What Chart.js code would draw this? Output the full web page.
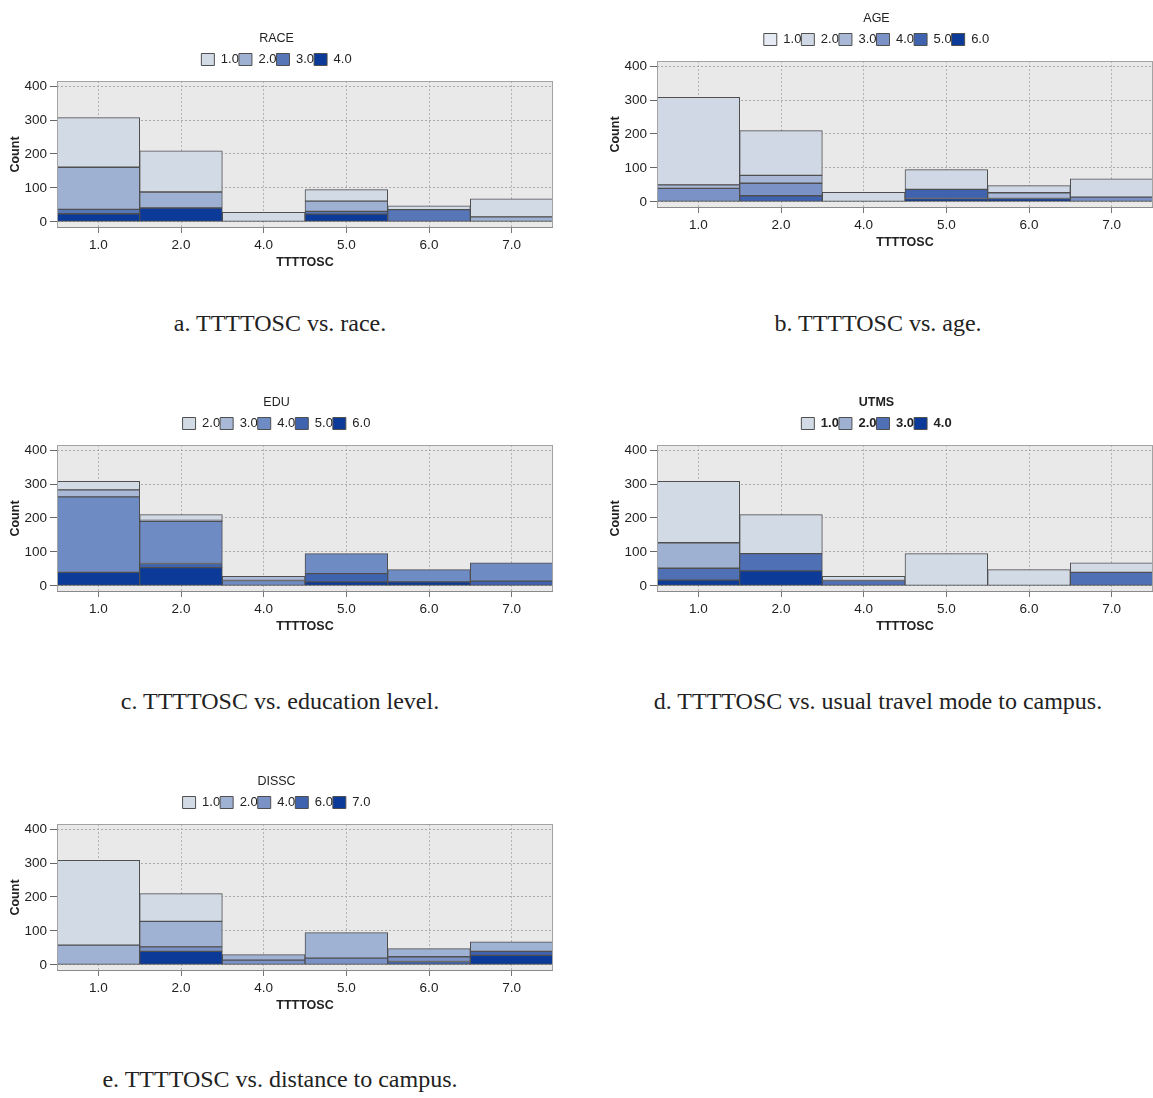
<!DOCTYPE html>
<html>
<head>
<meta charset="utf-8">
<script src="https://cdn.jsdelivr.net/npm/chart.js@4.4.0/dist/chart.umd.min.js"></script>
<style>
  html, body { margin: 0; padding: 0; background: #fff; overflow: hidden; }
  body { width: 1153px; height: 1098px; position: relative; }
  .box { position: absolute; width: 562px; height: 255px; }
  .cap { position: absolute; width: 560px; text-align: center; font-family: 'Liberation Serif', serif; font-size: 24px; color: #222; }
</style>
</head>
<body>
<div class="box" style="left:0;top:23px"><canvas id="raceChart"></canvas></div>
<div class="box" style="left:600px;top:3px"><canvas id="ageChart"></canvas></div>
<div class="box" style="left:0;top:387px"><canvas id="eduChart"></canvas></div>
<div class="box" style="left:600px;top:387px"><canvas id="utmsChart"></canvas></div>
<div class="box" style="left:0;top:766px"><canvas id="disscChart"></canvas></div>

<div class="cap" style="left:0;top:310px">a. TTTTOSC vs. race.</div>
<div class="cap" style="left:598px;top:310px">b. TTTTOSC vs. age.</div>
<div class="cap" style="left:0;top:688px">c. TTTTOSC vs. education level.</div>
<div class="cap" style="left:598px;top:688px">d. TTTTOSC vs. usual travel mode to campus.</div>
<div class="cap" style="left:0;top:1066px">e. TTTTOSC vs. distance to campus.</div>

<script>
// TTTTOSC bins (x axis) and count ticks
const bins = ['1.0', '2.0', '4.0', '5.0', '6.0', '7.0'];
const countTicks = [0, 100, 200, 300, 400];

// a. RACE
const raceGroups = ['1.0', '2.0', '3.0', '4.0'];
const race1 = [146, 121, 28, 34, 11, 53];
const race2 = [124, 47, 0, 30, 0, 15];
const race3 = [13, 0, 0, 8, 36, 0];
const race4 = [24, 41, 0, 23, 0, 0];

// b. AGE
const ageGroups = ['1.0', '2.0', '3.0', '4.0', '5.0', '6.0'];
const age1 = [0, 0, 0, 0, 0, 0];
const age2 = [258, 132, 28, 58, 21, 54];
const age3 = [10, 23, 0, 0, 17, 0];
const age4 = [40, 37, 0, 0, 0, 14];
const age5 = [0, 18, 0, 27, 0, 0];
const age6 = [0, 0, 0, 10, 10, 0];

// c. EDU
const eduGroups = ['2.0', '3.0', '4.0', '5.0', '6.0'];
const edu2 = [25, 17, 0, 0, 0, 0];
const edu3 = [21, 3, 12, 0, 0, 0];
const edu4 = [222, 124, 16, 59, 36, 54];
const edu5 = [0, 12, 0, 24, 0, 14];
const edu6 = [40, 54, 0, 12, 12, 0];

// d. UTMS
const utmsGroups = ['1.0', '2.0', '3.0', '4.0'];
const utms1 = [181, 115, 12, 95, 48, 28];
const utms2 = [75, 0, 0, 0, 0, 0];
const utms3 = [35, 51, 16, 0, 0, 40];
const utms4 = [17, 44, 0, 0, 0, 0];

// e. DISSC
const disscGroups = ['1.0', '2.0', '4.0', '6.0', '7.0'];
const dissc1 = [250, 82, 0, 0, 0, 0];
const dissc2 = [58, 75, 16, 75, 24, 28];
const dissc4 = [0, 13, 14, 20, 14, 0];
const dissc6 = [0, 0, 0, 0, 10, 12];
const dissc7 = [0, 40, 0, 0, 0, 28];

const FONT = "'Liberation Sans', Arial, sans-serif";

// grey plot panel with a frame
const panel = {
    id: 'panel',
    beforeDraw(chart) {
        const a = chart.chartArea;
        const ctx = chart.ctx;
        ctx.save();
        ctx.fillStyle = '#e9e9e9';
        ctx.fillRect(a.left, a.top, a.right - a.left, a.bottom - a.top);
        ctx.restore();
    },
    afterDraw(chart) {
        const a = chart.chartArea;
        const ctx = chart.ctx;
        ctx.save();
        ctx.strokeStyle = '#a3a3a3';
        ctx.lineWidth = 1;
        ctx.strokeRect(a.left + 0.5, a.top + 0.5, a.right - a.left - 1, a.bottom - a.top - 1);
        ctx.strokeStyle = '#8a8a8a';
        ctx.beginPath();
        ctx.moveTo(a.left, a.bottom - 0.5);
        ctx.lineTo(a.right, a.bottom - 0.5);
        ctx.stroke();
        ctx.restore();
    }
};

// leave room between the legend row and the plot
const legendGap = {
    id: 'legendGap',
    beforeLayout(chart) {
        const lg = chart.legend;
        if (lg && !lg._gapDone) {
            const fit = lg.fit;
            lg.fit = function () { fit.call(this); this.height += 5; };
            lg._gapDone = true;
        }
    }
};

function makeChart(id, title, groups, series, colors, bold) {
    const weight = bold ? 'bold' : 'normal';
    const datasets = groups.map((g, i) => ({
        label: g,
        data: series[i].map(v => (v === 0 ? null : v)),
        backgroundColor: colors[i],
        borderColor: '#4f4f4f',
        borderWidth: 1,
        borderSkipped: false,
        barPercentage: 1,
        categoryPercentage: 1,
    })).reverse();

    return new Chart(document.getElementById(id), {
        type: 'bar',
        data: { labels: bins, datasets: datasets },
        plugins: [panel, legendGap],
        options: {
            responsive: true,
            maintainAspectRatio: false,
            animation: false,
            layout: { padding: { left: 0, right: 9, top: 0, bottom: 0 } },
            plugins: {
                tooltip: { enabled: false },
                title: {
                    display: true,
                    text: title,
                    color: '#222',
                    font: { family: FONT, size: 12.5, weight: weight },
                    padding: { top: 8, bottom: 7 },
                },
                legend: {
                    display: true,
                    reverse: true,
                    labels: {
                        color: '#222',
                        boxWidth: 13,
                        boxHeight: 12,
                        padding: 0,
                        font: { family: FONT, size: 13, weight: weight },
                    },
                },
            },
            scales: {
                x: {
                    stacked: true,
                    offset: true,
                    grid: { offset: false, color: '#b3b3b3', tickLength: 5, tickColor: '#777' },
                    border: { display: false, dash: [2, 2] },
                    ticks: { color: '#222', font: { family: FONT, size: 13.5 }, padding: 4, maxRotation: 0 },
                    title: {
                        display: true,
                        text: 'TTTTOSC',
                        color: '#222',
                        font: { family: FONT, size: 12.5, weight: 'bold' },
                        padding: { top: 0, bottom: 8 },
                    },
                    afterFit: s => { s.height = 50; },
                },
                y: {
                    stacked: true,
                    min: -18,
                    max: 415,
                    afterBuildTicks: s => { s.ticks = countTicks.map(v => ({ value: v })); },
                    afterFit: s => { s.width = 57; },
                    grid: { color: '#a9a9a9', tickLength: 7, tickColor: '#666' },
                    border: { display: false, dash: [2, 2] },
                    ticks: { color: '#222', font: { family: FONT, size: 13.5 }, padding: 3 },
                    title: {
                        display: true,
                        text: 'Count',
                        color: '#222',
                        font: { family: FONT, size: 12.5, weight: 'bold' },
                        padding: { top: 8, bottom: 0 },
                    },
                },
            },
        },
    });
}

document.addEventListener('DOMContentLoaded', function () {
    makeChart('raceChart', 'RACE', raceGroups, [race1, race2, race3, race4],
        ['#d2dae6', '#9fb1d3', '#5776b8', '#0b3a99'], false);
    makeChart('ageChart', 'AGE', ageGroups, [age1, age2, age3, age4, age5, age6],
        ['#e6ebf3', '#d0d8e5', '#a8b8d6', '#7a92c6', '#3f63ae', '#0b3a99'], false);
    makeChart('eduChart', 'EDU', eduGroups, [edu2, edu3, edu4, edu5, edu6],
        ['#d2dae6', '#a8b8d6', '#6f8bc3', '#3f63ae', '#0b3a99'], false);
    makeChart('utmsChart', 'UTMS', utmsGroups, [utms1, utms2, utms3, utms4],
        ['#d2dae6', '#9fb1d3', '#4f70b5', '#0b3a99'], true);
    makeChart('disscChart', 'DISSC', disscGroups, [dissc1, dissc2, dissc4, dissc6, dissc7],
        ['#d2dae6', '#a0b2d3', '#7a92c6', '#3f63ae', '#0b3a99'], false);
});
</script>
</body>
</html>
